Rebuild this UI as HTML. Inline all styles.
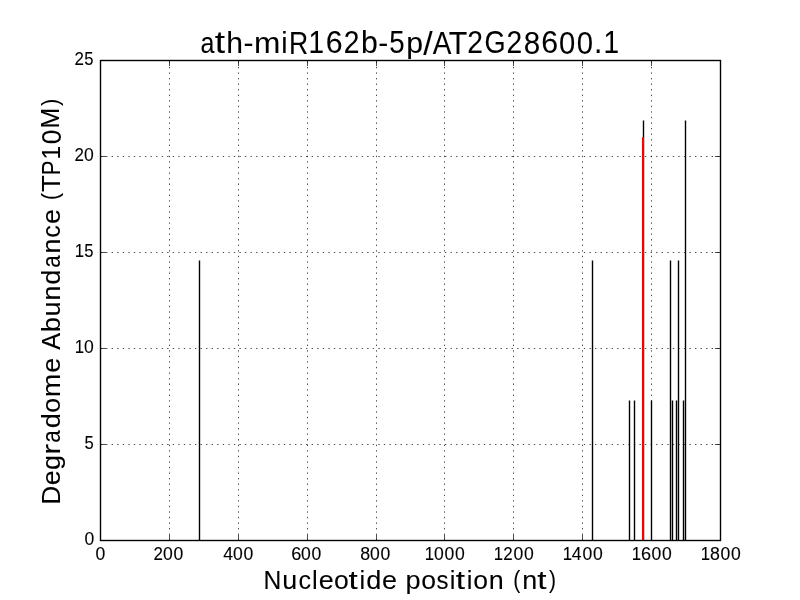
<!DOCTYPE html>
<html><head><meta charset="utf-8"><title>ath-miR162b-5p/AT2G28600.1</title>
<style>html,body{margin:0;padding:0;background:#fff;}body{width:800px;height:600px;overflow:hidden;}svg{display:block;will-change:transform;}text{font-family:"Liberation Sans", sans-serif;fill:#000;}</style>
</head><body>
<svg width="800" height="600" viewBox="0 0 800 600">
<rect x="0" y="0" width="800" height="600" fill="#fff"/>
<path d="M169.5 540.500V60.500M238.5 540.500V60.500M307.5 540.500V60.500M376.5 540.500V60.500M444.5 540.500V60.500M513.5 540.500V60.500M582.5 540.500V60.500M651.5 540.500V60.500" stroke="#000" stroke-width="0.694" stroke-dasharray="1.389 4.167" fill="none"/>
<path d="M100.500 156.5H720.500M100.500 252.5H720.500M100.500 348.5H720.500M100.500 444.5H720.500" stroke="#000" stroke-width="0.694" stroke-dasharray="1.389 4.167" fill="none"/>
<path d="M199.5 540.5V260.50M592.5 540.5V260.50M670.5 540.5V260.50M678.5 540.5V260.50M629.5 540.5V400.50M634.5 540.5V400.50M651.5 540.5V400.50M672.5 540.5V400.50M676.5 540.5V400.50M683.5 540.5V400.50M643.5 540.5V120.50M685.5 540.5V120.50" stroke="#000" stroke-width="1.389" fill="none"/>
<path d="M643 540.5V137.30" stroke="#f00" stroke-width="2.08" fill="none"/>
<path d="M169.5 540.500v-5.556M169.5 60.500v5.556M238.5 540.500v-5.556M238.5 60.500v5.556M307.5 540.500v-5.556M307.5 60.500v5.556M376.5 540.500v-5.556M376.5 60.500v5.556M444.5 540.500v-5.556M444.5 60.500v5.556M513.5 540.500v-5.556M513.5 60.500v5.556M582.5 540.500v-5.556M582.5 60.500v5.556M651.5 540.500v-5.556M651.5 60.500v5.556M100.500 444.5h5.556M720.500 444.5h-5.556M100.500 348.5h5.556M720.500 348.5h-5.556M100.500 252.5h5.556M720.500 252.5h-5.556M100.500 156.5h5.556M720.500 156.5h-5.556" stroke="#000" stroke-width="0.694" fill="none"/>
<rect x="100.5" y="60.5" width="620.0" height="480.0" stroke="#000" stroke-width="1.389" fill="none"/>
<g transform="translate(94.927 560.024)" font-size="16.667" stroke="#000" stroke-width="0.100"><text transform="matrix(1.0541 0 0 1.0683 0.538 0.076)">0</text></g>
<g transform="translate(152.320 560.100)" font-size="16.667" stroke="#000" stroke-width="0.100"><text transform="matrix(1.0161 0 0 1.0629 1.229 0.115)">2</text><text transform="matrix(1.0541 0 0 1.0683 10.735 0.199)">0</text><text transform="matrix(1.0541 0 0 1.0683 21.270 0.125)">0</text></g>
<g transform="translate(222.177 560.030)" font-size="16.667" stroke="#000" stroke-width="0.100"><text transform="matrix(1.0543 0 0 1.0596 0.966 -0.231)">4</text><text transform="matrix(1.0541 0 0 1.0683 10.744 0.094)">0</text><text transform="matrix(1.0541 0 0 1.0683 21.227 0.097)">0</text></g>
<g transform="translate(290.102 559.689)" font-size="16.667" stroke="#000" stroke-width="0.100"><text transform="matrix(1.0910 0 0 1.0683 1.165 0.043)">6</text><text transform="matrix(1.0541 0 0 1.0683 10.804 0.139)">0</text><text transform="matrix(1.0541 0 0 1.0683 21.321 0.097)">0</text></g>
<g transform="translate(359.221 559.974)" font-size="16.667" stroke="#000" stroke-width="0.100"><text transform="matrix(1.0656 0 0 1.0683 1.141 0.067)">8</text><text transform="matrix(1.0541 0 0 1.0683 10.663 0.083)">0</text><text transform="matrix(1.0541 0 0 1.0683 21.175 0.103)">0</text></g>
<g transform="translate(423.066 559.800)" font-size="16.667" stroke="#000" stroke-width="0.100"><text transform="matrix(1.0068 0 0 1.0596 1.608 -0.129)">1</text><text transform="matrix(1.0541 0 0 1.0683 11.037 0.199)">0</text><text transform="matrix(1.0541 0 0 1.0683 21.484 0.146)">0</text><text transform="matrix(1.0541 0 0 1.0683 32.025 0.137)">0</text></g>
<g transform="translate(492.261 559.753)" font-size="16.667" stroke="#000" stroke-width="0.100"><text transform="matrix(1.0068 0 0 1.0596 1.370 -0.173)">1</text><text transform="matrix(1.0161 0 0 1.0629 10.897 0.128)">2</text><text transform="matrix(1.0541 0 0 1.0683 21.321 0.114)">0</text><text transform="matrix(1.0541 0 0 1.0683 31.839 0.115)">0</text></g>
<g transform="translate(561.126 559.721)" font-size="16.667" stroke="#000" stroke-width="0.100"><text transform="matrix(1.0068 0 0 1.0596 1.518 -0.156)">1</text><text transform="matrix(1.0543 0 0 1.0596 10.698 0.174)">4</text><text transform="matrix(1.0541 0 0 1.0683 21.425 0.126)">0</text><text transform="matrix(1.0541 0 0 1.0683 31.875 0.127)">0</text></g>
<g transform="translate(630.184 559.446)" font-size="16.667" stroke="#000" stroke-width="0.100"><text transform="matrix(1.0068 0 0 1.0596 1.461 0.079)">1</text><text transform="matrix(1.0910 0 0 1.0683 10.731 0.111)">6</text><text transform="matrix(1.0541 0 0 1.0683 21.438 0.144)">0</text><text transform="matrix(1.0541 0 0 1.0683 31.853 0.135)">0</text></g>
<g transform="translate(699.137 559.768)" font-size="16.667" stroke="#000" stroke-width="0.100"><text transform="matrix(1.0068 0 0 1.0596 1.502 0.034)">1</text><text transform="matrix(1.0656 0 0 1.0683 10.824 0.110)">8</text><text transform="matrix(1.0541 0 0 1.0683 21.448 0.129)">0</text><text transform="matrix(1.0541 0 0 1.0683 31.879 0.122)">0</text></g>
<g transform="translate(84.000 545.418)" font-size="16.667" stroke="#000" stroke-width="0.070"><text transform="matrix(1.0541 0 0 1.0683 0.386 0.076)">0</text></g>
<g transform="translate(84.216 448.244)" font-size="16.667" stroke="#000" stroke-width="0.070"><text transform="matrix(0.9949 0 0 1.0651 0.357 0.578)">5</text></g>
<g transform="translate(73.437 352.793)" font-size="16.667" stroke="#000" stroke-width="0.070"><text transform="matrix(1.0068 0 0 1.0596 1.235 -0.104)">1</text><text transform="matrix(1.0541 0 0 1.0683 10.662 0.180)">0</text></g>
<g transform="translate(73.740 257.145)" font-size="16.667" stroke="#000" stroke-width="0.070"><text transform="matrix(1.0068 0 0 1.0596 0.936 -0.447)">1</text><text transform="matrix(0.9949 0 0 1.0651 10.543 -0.591)">5</text></g>
<g transform="translate(73.482 161.057)" font-size="16.667" stroke="#000" stroke-width="0.070"><text transform="matrix(1.0161 0 0 1.0629 1.085 0.138)">2</text><text transform="matrix(1.0541 0 0 1.0683 10.607 0.185)">0</text></g>
<g transform="translate(73.825 64.865)" font-size="16.667" stroke="#000" stroke-width="0.070"><text transform="matrix(1.0161 0 0 1.0629 0.745 0.203)">2</text><text transform="matrix(0.9949 0 0 1.0651 10.439 -0.117)">5</text></g>
<g transform="translate(197.824 52.556)" font-size="27.778" stroke="#000" stroke-width="0.060"><text transform="matrix(0.8992 0 0 1.0901 2.775 0.034)">a</text><text transform="matrix(1.3365 0 0 1.1161 16.899 0.874)">t</text><text transform="matrix(1.0856 0 0 1.0905 28.518 0.882)">h</text><text transform="matrix(1.0780 0 0 1.0660 45.737 0.087)">-</text><text transform="matrix(1.1394 0 0 1.0825 56.091 0.788)">m</text><text transform="matrix(1.0222 0 0 1.0905 83.549 0.395)">i</text><text transform="matrix(0.9564 0 0 1.1020 91.080 1.040)">R</text><text transform="matrix(1.0068 0 0 1.1020 110.746 0.383)">1</text><text transform="matrix(1.0910 0 0 1.1110 127.915 0.506)">6</text><text transform="matrix(1.0161 0 0 1.1055 146.014 0.645)">2</text><text transform="matrix(1.0879 0 0 1.0960 163.150 0.751)">b</text><text transform="matrix(1.0780 0 0 1.0660 180.359 0.085)">-</text><text transform="matrix(0.9949 0 0 1.1077 191.312 0.789)">5</text><text transform="matrix(1.0879 0 0 1.0720 208.358 0.363)">p</text><text transform="matrix(1.2127 0 0 1.1638 225.498 2.825)">/</text><text transform="matrix(1.0074 0 0 1.1020 234.977 1.300)">A</text><text transform="matrix(1.0907 0 0 1.1020 251.021 1.129)">T</text><text transform="matrix(1.0161 0 0 1.1055 269.420 0.687)">2</text><text transform="matrix(0.9753 0 0 1.1110 286.712 0.573)">G</text><text transform="matrix(1.0161 0 0 1.1055 308.558 0.673)">2</text><text transform="matrix(1.0656 0 0 1.1110 325.810 1.221)">8</text><text transform="matrix(1.0910 0 0 1.1110 343.316 0.510)">6</text><text transform="matrix(1.0541 0 0 1.1110 361.248 1.123)">0</text><text transform="matrix(1.0541 0 0 1.1110 379.036 1.136)">0</text><text transform="matrix(1.0821 0 0 1.2062 396.296 0.243)">.</text><text transform="matrix(1.0068 0 0 1.1020 405.755 0.419)">1</text></g>
<g transform="translate(263.122 588.838)" font-size="25.000" stroke="#000" stroke-width="0.070"><text transform="matrix(0.9878 0 0 1.0384 0.428 -0.103)">N</text><text transform="matrix(1.0782 0 0 1.0458 19.016 -0.028)">u</text><text transform="matrix(1.0034 0 0 1.0272 35.289 0.321)">c</text><text transform="matrix(1.0222 0 0 1.0275 48.895 0.001)">l</text><text transform="matrix(1.0801 0 0 1.0272 55.596 0.124)">e</text><text transform="matrix(1.0631 0 0 1.0272 70.890 0.111)">o</text><text transform="matrix(1.3365 0 0 1.0517 85.361 0.556)">t</text><text transform="matrix(1.0222 0 0 1.0275 96.366 0.559)">i</text><text transform="matrix(1.0869 0 0 1.0328 103.068 0.095)">d</text><text transform="matrix(1.0801 0 0 1.0272 118.804 0.131)">e</text><text transform="matrix(1.0879 0 0 1.0102 142.321 -0.144)">p</text><text transform="matrix(1.0631 0 0 1.0272 158.016 0.096)">o</text><text transform="matrix(0.9586 0 0 1.0299 173.480 0.096)">s</text><text transform="matrix(1.0222 0 0 1.0275 186.744 0.587)">i</text><text transform="matrix(1.3365 0 0 1.0517 192.699 0.521)">t</text><text transform="matrix(1.0222 0 0 1.0275 203.572 0.548)">i</text><text transform="matrix(1.0631 0 0 1.0272 210.156 0.096)">o</text><text transform="matrix(1.0782 0 0 1.0200 225.518 0.011)">n</text><text transform="matrix(0.8453 0 0 0.9369 250.036 -1.240)">(</text><text transform="matrix(1.0782 0 0 1.0200 259.168 0.035)">n</text><text transform="matrix(1.3365 0 0 1.0517 274.153 0.531)">t</text><text transform="matrix(0.8453 0 0 0.9369 285.999 -1.157)">)</text></g>
<g transform="translate(59.874 504.739) rotate(-90)" font-size="25.000" stroke="#000" stroke-width="0.050"><text transform="matrix(1.0346 0 0 1.0596 0.322 -0.122)">D</text><text transform="matrix(1.0801 0 0 1.0481 19.394 0.174)">e</text><text transform="matrix(1.0869 0 0 1.0322 34.805 0.545)">g</text><text transform="matrix(1.2812 0 0 1.0408 50.049 -0.008)">r</text><text transform="matrix(0.8992 0 0 1.0481 62.056 -0.050)">a</text><text transform="matrix(1.0869 0 0 1.0539 76.374 0.097)">d</text><text transform="matrix(1.0631 0 0 1.0481 92.077 0.110)">o</text><text transform="matrix(1.1394 0 0 1.0408 107.405 0.048)">m</text><text transform="matrix(1.0801 0 0 1.0481 131.933 0.209)">e</text><text transform="matrix(1.0074 0 0 1.0596 155.113 0.001)">A</text><text transform="matrix(1.0879 0 0 1.0539 172.410 0.097)">b</text><text transform="matrix(1.0782 0 0 1.0672 188.356 0.092)">u</text><text transform="matrix(1.0782 0 0 1.0408 204.199 -0.003)">n</text><text transform="matrix(1.0869 0 0 1.0539 219.933 0.097)">d</text><text transform="matrix(0.8992 0 0 1.0481 236.880 -0.002)">a</text><text transform="matrix(1.0782 0 0 1.0408 251.232 -0.003)">n</text><text transform="matrix(1.0034 0 0 1.0481 267.078 0.267)">c</text><text transform="matrix(1.0801 0 0 1.0481 280.686 0.206)">e</text><text transform="matrix(0.8453 0 0 0.9560 304.857 -1.641)">(</text><text transform="matrix(1.0907 0 0 1.0596 312.938 0.040)">T</text><text transform="matrix(0.8844 0 0 1.0596 329.612 0.076)">P</text><text transform="matrix(1.0068 0 0 1.0596 344.880 -0.145)">1</text><text transform="matrix(1.0541 0 0 1.0683 360.518 0.777)">0</text><text transform="matrix(0.9971 0 0 1.0596 376.153 -1.041)">M</text><text transform="matrix(0.8453 0 0 0.9560 399.076 -1.714)">)</text></g>
</svg>
</body></html>
